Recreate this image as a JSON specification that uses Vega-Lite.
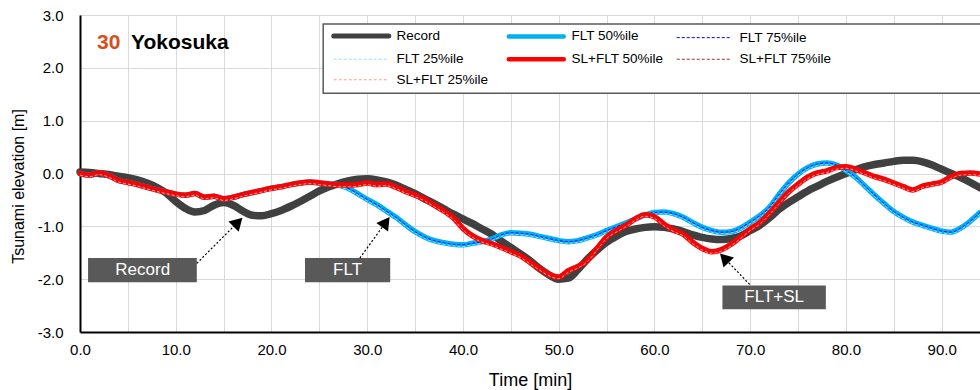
{
"$schema":"https://vega.github.io/schema/vega-lite/v6.json",
"width":900,"height":317,
"autosize":{"type":"none"},
"padding":{"left":80,"top":15,"right":0,"bottom":58},
"background":"white",
"config":{"view":{"stroke":null},"font":"Liberation Sans","text":{"font":"Liberation Sans"}},
"datasets":{
"w":[
{"t":0,"R":0.03,"F50":0,"F75":0,"F25":-0.03,"S50":0,"S75":0,"S25":-0.03},
{"t":1,"R":0.02,"F50":-0.03,"F75":-0.03,"F25":-0.06,"S50":-0.03,"S75":-0.03,"S25":-0.06},
{"t":2,"R":0,"F50":0.01,"F75":0.01,"F25":-0.02,"S50":0.01,"S75":0.01,"S25":-0.02},
{"t":3,"R":-0.02,"F50":-0.04,"F75":-0.04,"F25":-0.07,"S50":-0.04,"S75":-0.04,"S25":-0.07},
{"t":4,"R":-0.05,"F50":-0.13,"F75":-0.13,"F25":-0.16,"S50":-0.13,"S75":-0.13,"S25":-0.16},
{"t":5,"R":-0.08,"F50":-0.17,"F75":-0.17,"F25":-0.2,"S50":-0.17,"S75":-0.17,"S25":-0.2},
{"t":6,"R":-0.12,"F50":-0.21,"F75":-0.21,"F25":-0.24,"S50":-0.21,"S75":-0.21,"S25":-0.24},
{"t":7,"R":-0.18,"F50":-0.26,"F75":-0.26,"F25":-0.29,"S50":-0.26,"S75":-0.26,"S25":-0.29},
{"t":8,"R":-0.26,"F50":-0.31,"F75":-0.31,"F25":-0.34,"S50":-0.31,"S75":-0.31,"S25":-0.34},
{"t":9,"R":-0.37,"F50":-0.35,"F75":-0.35,"F25":-0.38,"S50":-0.35,"S75":-0.35,"S25":-0.38},
{"t":10,"R":-0.53,"F50":-0.39,"F75":-0.39,"F25":-0.42,"S50":-0.39,"S75":-0.39,"S25":-0.42},
{"t":11,"R":-0.66,"F50":-0.41,"F75":-0.41,"F25":-0.44,"S50":-0.41,"S75":-0.41,"S25":-0.44},
{"t":12,"R":-0.73,"F50":-0.38,"F75":-0.38,"F25":-0.41,"S50":-0.38,"S75":-0.38,"S25":-0.41},
{"t":13,"R":-0.7,"F50":-0.45,"F75":-0.45,"F25":-0.48,"S50":-0.45,"S75":-0.45,"S25":-0.48},
{"t":14,"R":-0.6,"F50":-0.43,"F75":-0.43,"F25":-0.46,"S50":-0.43,"S75":-0.43,"S25":-0.46},
{"t":15,"R":-0.55,"F50":-0.48,"F75":-0.48,"F25":-0.51,"S50":-0.48,"S75":-0.48,"S25":-0.51},
{"t":16,"R":-0.6,"F50":-0.45,"F75":-0.45,"F25":-0.48,"S50":-0.45,"S75":-0.45,"S25":-0.48},
{"t":17,"R":-0.71,"F50":-0.4,"F75":-0.4,"F25":-0.43,"S50":-0.4,"S75":-0.4,"S25":-0.43},
{"t":18,"R":-0.79,"F50":-0.36,"F75":-0.36,"F25":-0.39,"S50":-0.36,"S75":-0.36,"S25":-0.39},
{"t":19,"R":-0.8,"F50":-0.32,"F75":-0.32,"F25":-0.35,"S50":-0.32,"S75":-0.32,"S25":-0.35},
{"t":20,"R":-0.76,"F50":-0.28,"F75":-0.28,"F25":-0.31,"S50":-0.28,"S75":-0.28,"S25":-0.31},
{"t":21,"R":-0.7,"F50":-0.25,"F75":-0.25,"F25":-0.28,"S50":-0.25,"S75":-0.25,"S25":-0.28},
{"t":22,"R":-0.62,"F50":-0.21,"F75":-0.21,"F25":-0.24,"S50":-0.21,"S75":-0.21,"S25":-0.24},
{"t":23,"R":-0.53,"F50":-0.18,"F75":-0.18,"F25":-0.21,"S50":-0.18,"S75":-0.18,"S25":-0.21},
{"t":24,"R":-0.43,"F50":-0.16,"F75":-0.16,"F25":-0.19,"S50":-0.16,"S75":-0.16,"S25":-0.19},
{"t":25,"R":-0.33,"F50":-0.18,"F75":-0.18,"F25":-0.21,"S50":-0.18,"S75":-0.18,"S25":-0.21},
{"t":26,"R":-0.25,"F50":-0.2,"F75":-0.2,"F25":-0.23,"S50":-0.2,"S75":-0.2,"S25":-0.23},
{"t":27,"R":-0.19,"F50":-0.22,"F75":-0.22,"F25":-0.25,"S50":-0.22,"S75":-0.22,"S25":-0.25},
{"t":28,"R":-0.14,"F50":-0.28,"F75":-0.28,"F25":-0.31,"S50":-0.22,"S75":-0.22,"S25":-0.25},
{"t":29,"R":-0.11,"F50":-0.38,"F75":-0.38,"F25":-0.41,"S50":-0.21,"S75":-0.21,"S25":-0.24},
{"t":30,"R":-0.1,"F50":-0.49,"F75":-0.49,"F25":-0.52,"S50":-0.18,"S75":-0.18,"S25":-0.21},
{"t":31,"R":-0.12,"F50":-0.59,"F75":-0.59,"F25":-0.62,"S50":-0.21,"S75":-0.21,"S25":-0.24},
{"t":32,"R":-0.16,"F50":-0.71,"F75":-0.71,"F25":-0.74,"S50":-0.2,"S75":-0.2,"S25":-0.23},
{"t":33,"R":-0.22,"F50":-0.83,"F75":-0.83,"F25":-0.86,"S50":-0.26,"S75":-0.26,"S25":-0.29},
{"t":34,"R":-0.3,"F50":-0.97,"F75":-0.97,"F25":-1.0,"S50":-0.34,"S75":-0.34,"S25":-0.37},
{"t":35,"R":-0.38,"F50":-1.1,"F75":-1.1,"F25":-1.13,"S50":-0.41,"S75":-0.41,"S25":-0.44},
{"t":36,"R":-0.48,"F50":-1.2,"F75":-1.2,"F25":-1.23,"S50":-0.49,"S75":-0.49,"S25":-0.52},
{"t":37,"R":-0.57,"F50":-1.27,"F75":-1.27,"F25":-1.3,"S50":-0.6,"S75":-0.6,"S25":-0.63},
{"t":38,"R":-0.67,"F50":-1.31,"F75":-1.31,"F25":-1.34,"S50":-0.71,"S75":-0.71,"S25":-0.74},
{"t":39,"R":-0.77,"F50":-1.34,"F75":-1.34,"F25":-1.37,"S50":-0.84,"S75":-0.84,"S25":-0.87},
{"t":40,"R":-0.86,"F50":-1.35,"F75":-1.35,"F25":-1.38,"S50":-1.04,"S75":-1.04,"S25":-1.07},
{"t":41,"R":-0.95,"F50":-1.32,"F75":-1.32,"F25":-1.35,"S50":-1.18,"S75":-1.18,"S25":-1.21},
{"t":42,"R":-1.05,"F50":-1.29,"F75":-1.29,"F25":-1.32,"S50":-1.27,"S75":-1.27,"S25":-1.3},
{"t":43,"R":-1.15,"F50":-1.24,"F75":-1.24,"F25":-1.27,"S50":-1.33,"S75":-1.33,"S25":-1.36},
{"t":44,"R":-1.28,"F50":-1.16,"F75":-1.16,"F25":-1.19,"S50":-1.4,"S75":-1.4,"S25":-1.43},
{"t":45,"R":-1.4,"F50":-1.12,"F75":-1.12,"F25":-1.15,"S50":-1.48,"S75":-1.48,"S25":-1.51},
{"t":46,"R":-1.52,"F50":-1.13,"F75":-1.13,"F25":-1.16,"S50":-1.56,"S75":-1.56,"S25":-1.59},
{"t":47,"R":-1.65,"F50":-1.15,"F75":-1.15,"F25":-1.18,"S50":-1.68,"S75":-1.68,"S25":-1.71},
{"t":48,"R":-1.8,"F50":-1.19,"F75":-1.19,"F25":-1.22,"S50":-1.8,"S75":-1.8,"S25":-1.83},
{"t":49,"R":-1.92,"F50":-1.23,"F75":-1.23,"F25":-1.26,"S50":-1.91,"S75":-1.91,"S25":-1.94},
{"t":50,"R":-2.0,"F50":-1.27,"F75":-1.27,"F25":-1.3,"S50":-1.96,"S75":-1.96,"S25":-1.99},
{"t":51,"R":-1.98,"F50":-1.29,"F75":-1.29,"F25":-1.32,"S50":-1.84,"S75":-1.84,"S25":-1.87},
{"t":52,"R":-1.82,"F50":-1.27,"F75":-1.27,"F25":-1.3,"S50":-1.76,"S75":-1.76,"S25":-1.79},
{"t":53,"R":-1.62,"F50":-1.22,"F75":-1.22,"F25":-1.25,"S50":-1.64,"S75":-1.64,"S25":-1.67},
{"t":54,"R":-1.45,"F50":-1.16,"F75":-1.16,"F25":-1.19,"S50":-1.42,"S75":-1.42,"S25":-1.45},
{"t":55,"R":-1.3,"F50":-1.08,"F75":-1.08,"F25":-1.11,"S50":-1.2,"S75":-1.2,"S25":-1.23},
{"t":56,"R":-1.19,"F50":-1.01,"F75":-1.01,"F25":-1.04,"S50":-1.08,"S75":-1.08,"S25":-1.11},
{"t":57,"R":-1.1,"F50":-0.94,"F75":-0.94,"F25":-0.97,"S50":-0.98,"S75":-0.98,"S25":-1.01},
{"t":58,"R":-1.05,"F50":-0.86,"F75":-0.86,"F25":-0.89,"S50":-0.86,"S75":-0.86,"S25":-0.89},
{"t":59,"R":-1.02,"F50":-0.79,"F75":-0.79,"F25":-0.82,"S50":-0.78,"S75":-0.78,"S25":-0.81},
{"t":60,"R":-1.01,"F50":-0.74,"F75":-0.74,"F25":-0.77,"S50":-0.82,"S75":-0.82,"S25":-0.85},
{"t":61,"R":-1.02,"F50":-0.73,"F75":-0.73,"F25":-0.76,"S50":-0.96,"S75":-0.96,"S25":-0.99},
{"t":62,"R":-1.05,"F50":-0.76,"F75":-0.76,"F25":-0.79,"S50":-1.07,"S75":-1.07,"S25":-1.1},
{"t":63,"R":-1.1,"F50":-0.83,"F75":-0.83,"F25":-0.86,"S50":-1.15,"S75":-1.15,"S25":-1.18},
{"t":64,"R":-1.16,"F50":-0.93,"F75":-0.93,"F25":-0.96,"S50":-1.3,"S75":-1.3,"S25":-1.33},
{"t":65,"R":-1.21,"F50":-1.02,"F75":-1.02,"F25":-1.05,"S50":-1.42,"S75":-1.42,"S25":-1.45},
{"t":66,"R":-1.24,"F50":-1.08,"F75":-1.08,"F25":-1.11,"S50":-1.48,"S75":-1.48,"S25":-1.51},
{"t":67,"R":-1.25,"F50":-1.11,"F75":-1.11,"F25":-1.14,"S50":-1.44,"S75":-1.44,"S25":-1.47},
{"t":68,"R":-1.23,"F50":-1.1,"F75":-1.1,"F25":-1.13,"S50":-1.34,"S75":-1.34,"S25":-1.37},
{"t":69,"R":-1.18,"F50":-1.03,"F75":-1.03,"F25":-1.06,"S50":-1.2,"S75":-1.2,"S25":-1.23},
{"t":70,"R":-1.08,"F50":-0.92,"F75":-0.92,"F25":-0.95,"S50":-1.05,"S75":-1.05,"S25":-1.08},
{"t":71,"R":-0.98,"F50":-0.8,"F75":-0.8,"F25":-0.83,"S50":-0.93,"S75":-0.93,"S25":-0.96},
{"t":72,"R":-0.84,"F50":-0.64,"F75":-0.64,"F25":-0.67,"S50":-0.75,"S75":-0.75,"S25":-0.78},
{"t":73,"R":-0.68,"F50":-0.4,"F75":-0.4,"F25":-0.43,"S50":-0.55,"S75":-0.55,"S25":-0.58},
{"t":74,"R":-0.55,"F50":-0.18,"F75":-0.18,"F25":-0.21,"S50":-0.35,"S75":-0.35,"S25":-0.38},
{"t":75,"R":-0.44,"F50":-0.01,"F75":-0.01,"F25":-0.04,"S50":-0.2,"S75":-0.2,"S25":-0.23},
{"t":76,"R":-0.33,"F50":0.11,"F75":0.11,"F25":0.08,"S50":-0.07,"S75":-0.07,"S25":-0.1},
{"t":77,"R":-0.24,"F50":0.18,"F75":0.18,"F25":0.15,"S50":0.01,"S75":0.01,"S25":-0.02},
{"t":78,"R":-0.15,"F50":0.2,"F75":0.2,"F25":0.17,"S50":0.05,"S75":0.05,"S25":0.02},
{"t":79,"R":-0.07,"F50":0.16,"F75":0.16,"F25":0.13,"S50":0.11,"S75":0.11,"S25":0.08},
{"t":80,"R":0,"F50":0.06,"F75":0.06,"F25":0.03,"S50":0.13,"S75":0.13,"S25":0.1},
{"t":81,"R":0.07,"F50":-0.07,"F75":-0.07,"F25":-0.1,"S50":0.08,"S75":0.08,"S25":0.05},
{"t":82,"R":0.13,"F50":-0.24,"F75":-0.24,"F25":-0.27,"S50":0.01,"S75":0.01,"S25":-0.02},
{"t":83,"R":0.17,"F50":-0.41,"F75":-0.41,"F25":-0.44,"S50":-0.06,"S75":-0.06,"S25":-0.09},
{"t":84,"R":0.2,"F50":-0.57,"F75":-0.57,"F25":-0.6,"S50":-0.11,"S75":-0.11,"S25":-0.14},
{"t":85,"R":0.23,"F50":-0.72,"F75":-0.72,"F25":-0.75,"S50":-0.18,"S75":-0.18,"S25":-0.21},
{"t":86,"R":0.25,"F50":-0.83,"F75":-0.83,"F25":-0.86,"S50":-0.25,"S75":-0.25,"S25":-0.28},
{"t":87,"R":0.25,"F50":-0.92,"F75":-0.92,"F25":-0.95,"S50":-0.31,"S75":-0.31,"S25":-0.34},
{"t":88,"R":0.22,"F50":-0.98,"F75":-0.98,"F25":-1.01,"S50":-0.24,"S75":-0.24,"S25":-0.27},
{"t":89,"R":0.16,"F50":-1.04,"F75":-1.04,"F25":-1.07,"S50":-0.2,"S75":-0.2,"S25":-0.23},
{"t":90,"R":0.08,"F50":-1.09,"F75":-1.09,"F25":-1.12,"S50":-0.16,"S75":-0.16,"S25":-0.19},
{"t":91,"R":0,"F50":-1.11,"F75":-1.11,"F25":-1.14,"S50":-0.06,"S75":-0.06,"S25":-0.09},
{"t":92,"R":-0.08,"F50":-1.03,"F75":-1.03,"F25":-1.06,"S50":0,"S75":0,"S25":-0.03},
{"t":93,"R":-0.17,"F50":-0.9,"F75":-0.9,"F25":-0.93,"S50":0.01,"S75":0.01,"S25":-0.02},
{"t":94,"R":-0.27,"F50":-0.74,"F75":-0.74,"F25":-0.77,"S50":-0.01,"S75":-0.01,"S25":-0.04}
],
"lbox":[{"t":25.4,"t2":100,"v":2.83,"v2":1.52}],
"boxes":[
{"label":"Record","t":0.84,"t2":12.2,"v":-1.6,"v2":-2.06},
{"label":"FLT","t":23.5,"t2":32.4,"v":-1.6,"v2":-2.06},
{"label":"FLT+SL","t":67.1,"t2":77.9,"v":-2.12,"v2":-2.57}
],
"labels":[
{"label":"Record","t":6.55,"v":-1.83},
{"label":"FLT","t":27.95,"v":-1.83},
{"label":"FLT+SL","t":72.5,"v":-2.34}
],
"arrows":[
{"label":"Record","t":12.2,"v":-1.7,"t2":16.5,"v2":-0.92},
{"label":"FLT","t":29.23,"v":-1.6,"t2":31.95,"v2":-0.92},
{"label":"FLT+SL","t":69.94,"v":-2.1,"t2":67.3,"v2":-1.6}
],
"heads":[
{"label":"Record","t":16.5,"v":-0.92},
{"label":"FLT","t":31.95,"v":-0.92},
{"label":"FLT+SL","t":67.3,"v":-1.6}
],
"ttl":[
{"txt":"30","t":1.77,"v":2.47},
{"txt":"Yokosuka","t":5.32,"v":2.47}
]
},
"encoding":{
"x":{"field":"t","type":"quantitative","scale":{"domain":[0,94],"nice":false,"zero":false},
 "axis":{"title":"Time [min]","values":[0,5,10,15,20,25,30,35,40,45,50,55,60,65,70,75,80,85,90],
 "labelExpr":"datum.value % 10 === 0 ? format(datum.value, '.1f') : ''",
 "grid":true,"gridColor":"#D9D9D9","gridWidth":1,"ticks":false,"domainColor":"#000","domainWidth":2,
 "labelFont":"Liberation Sans","labelFontSize":15,"labelColor":"#000","labelPadding":10,"labelFlush":false,"labelOverlap":false,
 "titleFont":"Liberation Sans","titleFontSize":18,"titleFontWeight":"normal","titleColor":"#000","titleY":48,"titleBaseline":"middle"}},
"y":{"field":"v","type":"quantitative","scale":{"domain":[-3,3],"nice":false,"zero":false},
 "axis":{"title":"Tsunami elevation [m]","values":[-3,-2,-1,0,1,2,3],
 "labelExpr":"replace(format(datum.value, '.1f'), '\u2212', '-')",
 "grid":true,"gridColor":"#D9D9D9","gridWidth":1,"ticks":false,"domainColor":"#000","domainWidth":2,
 "labelFont":"Liberation Sans","labelFontSize":15,"labelColor":"#000","labelPadding":17,"labelFlush":false,"labelOverlap":false,
 "titleFont":"Liberation Sans","titleFontSize":16,"titleFontWeight":"normal","titleColor":"#000","titleX":-62,"titleY":171,"titleBaseline":"middle"}}
},
"layer":[
{"data":{"name":"w"},"transform":[{"fold":["R"],"as":["k","v"]}],
 "mark":{"type":"line","strokeWidth":7.5,"strokeCap":"round","strokeJoin":"round","interpolate":"monotone"},
 "encoding":{"color":{"field":"k","type":"nominal",
  "scale":{"domain":["R","F50","F75","F25","S50","S75","S25"],"range":["#404040","#00B0F0","#0000FF","#8EE8F8","#FF0000","#993333","#FF9999"]},
  "legend":{"orient":"none","direction":"horizontal","legendX":258,"legendY":14,"columns":3,"title":null,"padding":0,
   "values":["R","F50","F75","F25","S50","S75","S25"],
   "symbolType":"M-1,0H4","symbolSize":484,"labelOffset":45,"rowPadding":3.5,"columnPadding":10,
   "labelFont":"Liberation Sans","labelFontSize":13.5,"labelColor":"#000","labelLimit":300,
   "labelExpr":"{'R':'Record','F50':'FLT 50%ile','F75':'FLT 75%ile','F25':'FLT 25%ile','S50':'SL+FLT 50%ile','S75':'SL+FLT 75%ile','S25':'SL+FLT 25%ile'}[datum.label]",
   "encode":{"symbols":{"update":{
     "strokeWidth":{"signal":"datum.value === 'R' ? 5 : (datum.value === 'F50' || datum.value === 'S50') ? 4.5 : 1"},
     "strokeDash":{"signal":"(datum.value === 'R' || datum.value === 'F50' || datum.value === 'S50') ? [1,0] : [3,2]"},
     "strokeCap":{"signal":"(datum.value === 'R' || datum.value === 'F50' || datum.value === 'S50') ? 'round' : 'butt'"},
     "fill":{"value":"transparent"}}}}}}}},
{"data":{"name":"w"},"transform":[{"fold":["F50"],"as":["k","v"]}],
 "mark":{"type":"line","strokeWidth":5.5,"strokeCap":"round","strokeJoin":"round","interpolate":"monotone"},
 "encoding":{"color":{"field":"k","type":"nominal","scale":{"domain":["R","F50","F75","F25","S50","S75","S25"],"range":["#404040","#00B0F0","#0000FF","#8EE8F8","#FF0000","#993333","#FF9999"]}}}},
{"data":{"name":"w"},"transform":[{"fold":["F75","F25"],"as":["k","v"]}],
 "mark":{"type":"line","strokeWidth":1,"strokeDash":[3,2],"interpolate":"monotone"},
 "encoding":{"color":{"field":"k","type":"nominal","scale":{"domain":["R","F50","F75","F25","S50","S75","S25"],"range":["#404040","#00B0F0","#0000FF","#8EE8F8","#FF0000","#993333","#FF9999"]}}}},
{"data":{"name":"w"},"transform":[{"fold":["S50"],"as":["k","v"]}],
 "mark":{"type":"line","strokeWidth":5.5,"strokeCap":"round","strokeJoin":"round","interpolate":"monotone"},
 "encoding":{"color":{"field":"k","type":"nominal","scale":{"domain":["R","F50","F75","F25","S50","S75","S25"],"range":["#404040","#00B0F0","#0000FF","#8EE8F8","#FF0000","#993333","#FF9999"]}}}},
{"data":{"name":"w"},"transform":[{"fold":["S75","S25"],"as":["k","v"]}],
 "mark":{"type":"line","strokeWidth":1,"strokeDash":[3,2],"interpolate":"monotone"},
 "encoding":{"color":{"field":"k","type":"nominal","scale":{"domain":["R","F50","F75","F25","S50","S75","S25"],"range":["#404040","#00B0F0","#0000FF","#8EE8F8","#FF0000","#993333","#FF9999"]}}}},
{"mark":{"type":"rule","color":"#000","strokeWidth":2},
 "encoding":{"x":{"datum":0,"type":"quantitative"},"x2":{"datum":100},"y":{"datum":3,"type":"quantitative"}}},
{"data":{"name":"lbox"},"mark":{"type":"rect","fill":"#FFFFFF","stroke":"#595959","strokeWidth":1.5},
 "encoding":{"x2":{"field":"t2"},"y2":{"field":"v2"}}},
{"data":{"name":"boxes"},"mark":{"type":"rect","fill":"#595959"},
 "encoding":{"x2":{"field":"t2"},"y2":{"field":"v2"}}},
{"data":{"name":"arrows"},"mark":{"type":"rule","color":"#000","strokeWidth":1.2,"strokeDash":[2,2]},
 "encoding":{"x2":{"field":"t2"},"y2":{"field":"v2"}}},
{"data":{"name":"heads"},"transform":[{"filter":"datum.label === 'Record'"}],
 "mark":{"type":"point","shape":"triangle-up","filled":true,"color":"#000","opacity":1,"size":210,"angle":45}},
{"data":{"name":"heads"},"transform":[{"filter":"datum.label === 'FLT'"}],
 "mark":{"type":"point","shape":"triangle-up","filled":true,"color":"#000","opacity":1,"size":210,"angle":36}},
{"data":{"name":"heads"},"transform":[{"filter":"datum.label === 'FLT+SL'"}],
 "mark":{"type":"point","shape":"triangle-up","filled":true,"color":"#000","opacity":1,"size":210,"angle":-44}},
{"data":{"name":"labels"},"mark":{"type":"text","color":"#FFFFFF","fontSize":17,"align":"center","baseline":"middle","font":"Liberation Sans"},
 "encoding":{"text":{"field":"label"}}},
{"data":{"name":"ttl"},"transform":[{"filter":"datum.txt === '30'"}],
 "mark":{"type":"text","color":"#D5501E","fontSize":21,"fontWeight":"bold","align":"left","baseline":"middle","font":"Liberation Sans"},
 "encoding":{"text":{"field":"txt"}}},
{"data":{"name":"ttl"},"transform":[{"filter":"datum.txt === 'Yokosuka'"}],
 "mark":{"type":"text","color":"#000","fontSize":21,"fontWeight":"bold","align":"left","baseline":"middle","font":"Liberation Sans"},
 "encoding":{"text":{"field":"txt"}}}
]
}
